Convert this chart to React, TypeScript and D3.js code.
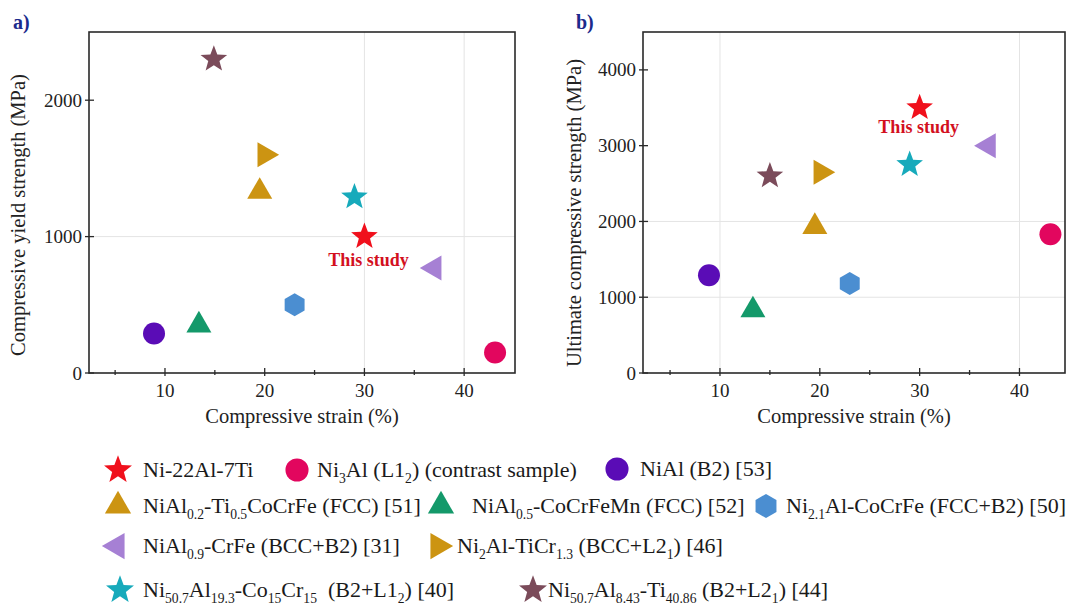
import React from "react";
import * as d3 from "d3";

// ---------- data ----------
const seriesLabels = [
  "Ni-22Al-7Ti",
  "Ni_{3}Al (L1_{2}) (contrast sample)",
  "NiAl (B2) [53]",
  "NiAl_{0.2}-Ti_{0.5}CoCrFe (FCC) [51]",
  "NiAl_{0.5}-CoCrFeMn (FCC) [52]",
  "Ni_{2.1}Al-CoCrFe (FCC+B2) [50]",
  "NiAl_{0.9}-CrFe (BCC+B2) [31]",
  "Ni_{2}Al-TiCr_{1.3} (BCC+L2_{1}) [46]",
  "Ni_{50.7}Al_{19.3}-Co_{15}Cr_{15}  (B2+L1_{2}) [40]",
  "Ni_{50.7}Al_{8.43}-Ti_{40.86} (B2+L2_{1}) [44]",
];
const seriesShapes = ["star", "circle", "circle", "triUp", "triUp", "hex", "triLeft", "triRight", "star", "star"];
const seriesColors = ["#f0101c", "#e2065e", "#5a0cb6", "#cc9412", "#14996a", "#4b8ed1", "#a680d4", "#cc9412", "#17aabb", "#7b4b5a"];

const strainA = [30, 43.1, 8.9, 19.5, 13.4, 23.0, 37.0, 20.0, 29.0, 14.9];
const yieldStrength = [1000, 150, 290, 1330, 350, 500, 770, 1600, 1290, 2300];
const strainB = [30, 43.1, 8.9, 19.5, 13.3, 23.0, 36.9, 20.1, 29.0, 15.0];
const ultimateStrength = [3500, 1830, 1290, 1930, 830, 1180, 3000, 2650, 2750, 2600];

const xTicks = [10, 20, 30, 40];
const xMinorTicks = [5, 15, 25, 35];
const yTicksA = [0, 1000, 2000];
const yTicksB = [0, 1000, 2000, 3000, 4000];
const gridXA = [30, 40];
const gridYA = [1000];
const gridXB = [10, 40];
const gridYB = [1000, 2000];

// ---------- styling ----------
const FONT = "'Liberation Serif', 'Times New Roman', serif";
const AXIS = "#2a2a2a";

function starPath(R: number) {
  const r = R * 0.42;
  const pts: [number, number][] = [];
  for (let i = 0; i < 10; i++) {
    const a = -Math.PI / 2 + (i * Math.PI) / 5;
    const rr = i % 2 === 0 ? R : r;
    pts.push([rr * Math.cos(a), rr * Math.sin(a)]);
  }
  return d3.line()(pts) + "Z";
}
function triPath(side: number, rot: number) {
  const h = (side * Math.sqrt(3)) / 2;
  const base: [number, number][] = [
    [0, (-2 * h) / 3],
    [side / 2, h / 3],
    [-side / 2, h / 3],
  ];
  const a = (rot * Math.PI) / 180;
  const pts = base.map(([x, y]) => [x * Math.cos(a) - y * Math.sin(a), x * Math.sin(a) + y * Math.cos(a)] as [number, number]);
  return d3.line()(pts) + "Z";
}
function hexPath(R: number) {
  const pts: [number, number][] = [];
  for (let i = 0; i < 6; i++) {
    const a = -Math.PI / 2 + (i * Math.PI) / 3;
    pts.push([R * Math.cos(a), R * Math.sin(a)]);
  }
  return d3.line()(pts) + "Z";
}

function Marker({ shape, color, x, y, s = 1 }: { shape: string; color: string; x: number; y: number; s?: number }) {
  const t = `translate(${x},${y})`;
  if (shape === "circle") return <circle cx={x} cy={y} r={11 * s} fill={color} />;
  let d = "";
  if (shape === "star") d = starPath(14 * s);
  else if (shape === "triUp") d = triPath(25 * s, 0);
  else if (shape === "triRight") d = triPath(25 * s, 90);
  else if (shape === "triLeft") d = triPath(25 * s, -90);
  else if (shape === "hex") d = hexPath(11.5 * s);
  return <path d={d} transform={t} fill={color} />;
}

function RichText({ text, x, y, size }: { text: string; x: number; y: number; size: number }) {
  const parts: { t: string; sub: boolean }[] = [];
  const re = /_\{([^}]*)\}/g;
  let last = 0;
  let m: RegExpExecArray | null;
  while ((m = re.exec(text))) {
    if (m.index > last) parts.push({ t: text.slice(last, m.index), sub: false });
    parts.push({ t: m[1], sub: true });
    last = m.index + m[0].length;
  }
  if (last < text.length) parts.push({ t: text.slice(last), sub: false });
  const off = size * 0.28;
  let cur = 0;
  return (
    <text x={x} y={y} fontSize={size} fontFamily={FONT} fill="#1a1a1a" style={{ whiteSpace: "pre" }}>
      {parts.map((p, i) => {
        const target = p.sub ? off : 0;
        const dy = target - cur;
        cur = target;
        return (
          <tspan key={i} dy={dy} fontSize={p.sub ? size * 0.62 : size}>
            {p.t}
          </tspan>
        );
      })}
    </text>
  );
}

type PanelProps = {
  left: number; right: number; top: number; bottom: number;
  xDomain: [number, number]; yDomain: [number, number];
  xs: number[]; ys: number[]; yTicks: number[];
  gridX: number[]; gridY: number[];
  yTitle: string; letter: string; letterX: number;
  labelDx: number; labelDy: number; yTitleX: number; yTitleY: number;
};

function Panel(p: PanelProps) {
  const x = d3.scaleLinear().domain(p.xDomain).range([p.left, p.right]);
  const y = d3.scaleLinear().domain(p.yDomain).range([p.bottom, p.top]);
  const cx = (p.left + p.right) / 2;
  return (
    <g>
      {p.gridX.map((v) => (
        <line key={"gx" + v} x1={x(v)} x2={x(v)} y1={p.top} y2={p.bottom} stroke="#e4e4e4" strokeWidth={1} />
      ))}
      {p.gridY.map((v) => (
        <line key={"gy" + v} x1={p.left} x2={p.right} y1={y(v)} y2={y(v)} stroke="#e4e4e4" strokeWidth={1} />
      ))}
      <rect x={p.left} y={p.top} width={p.right - p.left} height={p.bottom - p.top} fill="none" stroke={AXIS} strokeWidth={1.6} />
      {xTicks.map((v) => (
        <g key={"xt" + v}>
          <line x1={x(v)} x2={x(v)} y1={p.bottom - 5} y2={p.bottom + 3} stroke={AXIS} strokeWidth={1.3} />
          <text x={x(v)} y={p.bottom + 24} textAnchor="middle" fontSize={19} fontFamily={FONT} fill="#222">{v}</text>
        </g>
      ))}
      {xMinorTicks.map((v) => (
        <line key={"xm" + v} x1={x(v)} x2={x(v)} y1={p.bottom - 3} y2={p.bottom + 2} stroke={AXIS} strokeWidth={1.3} />
      ))}
      {p.yTicks.map((v) => (
        <g key={"yt" + v}>
          <line x1={p.left - 4} x2={p.left + 5} y1={y(v)} y2={y(v)} stroke={AXIS} strokeWidth={1.3} />
          <text x={p.left - 7} y={y(v) + 6.5} textAnchor="end" fontSize={19} fontFamily={FONT} fill="#222">{v}</text>
        </g>
      ))}
      <text x={cx} y={p.bottom + 50} textAnchor="middle" fontSize={20.5} fontFamily={FONT} fill="#222">Compressive strain (%)</text>
      <text transform={`translate(${p.yTitleX},${p.yTitleY}) rotate(-90)`} textAnchor="middle" fontSize={20.5} fontFamily={FONT} fill="#222">{p.yTitle}</text>
      <text x={p.letterX} y={29} fontSize={20} fontWeight="bold" fontFamily={FONT} fill="#1c2a8c">{p.letter}</text>
      {p.xs.map((v, i) => (
        <Marker key={i} shape={seriesShapes[i]} color={seriesColors[i]} x={x(v)} y={y(p.ys[i])} />
      ))}
      <text x={x(p.xs[0]) + p.labelDx} y={y(p.ys[0]) + p.labelDy} textAnchor="middle" fontSize={18} fontWeight="bold" fontFamily={FONT} fill="#d3101e">This study</text>
    </g>
  );
}

const legendMarkerPos: [number, number][] = [
  [118, 470], [297, 470], [617, 469],
  [118, 506], [441, 506], [766, 506],
  [117, 546], [438, 546],
  [120, 590], [533, 590],
];
const legendTextX = [143, 317, 640, 143, 472, 786, 143, 457, 143, 548];

export default function App() {
  return (
    <svg width={1068} height={609} style={{ position: "absolute", left: 0, top: 0, background: "#fff" }}>
      <rect x={0} y={0} width={1068} height={609} fill="#fff" />
      <Panel
        left={89} right={515} top={32} bottom={373}
        xDomain={[2.38, 45.1]} yDomain={[0, 2500]}
        xs={strainA} ys={yieldStrength} yTicks={yTicksA}
        gridX={gridXA} gridY={gridYA}
        yTitle="Compressive yield strength (MPa)" letter="a)" letterX={13}
        labelDx={4} labelDy={29} yTitleX={25} yTitleY={215}
      />
      <Panel
        left={643} right={1065} top={32} bottom={373}
        xDomain={[2.29, 44.56]} yDomain={[0, 4500]}
        xs={strainB} ys={ultimateStrength} yTicks={yTicksB}
        gridX={gridXB} gridY={gridYB}
        yTitle="Ultimate compressive strength (MPa)" letter="b)" letterX={576}
        labelDx={-1} labelDy={25} yTitleX={581} yTitleY={213}
      />
      {seriesLabels.map((lab, i) => (
        <g key={"lg" + i}>
          <Marker shape={seriesShapes[i]} color={seriesColors[i]} x={legendMarkerPos[i][0]} y={legendMarkerPos[i][1]} s={1.05} />
          <RichText text={lab} x={legendTextX[i]} y={legendMarkerPos[i][1] + 7} size={22} />
        </g>
      ))}
    </svg>
  );
}
